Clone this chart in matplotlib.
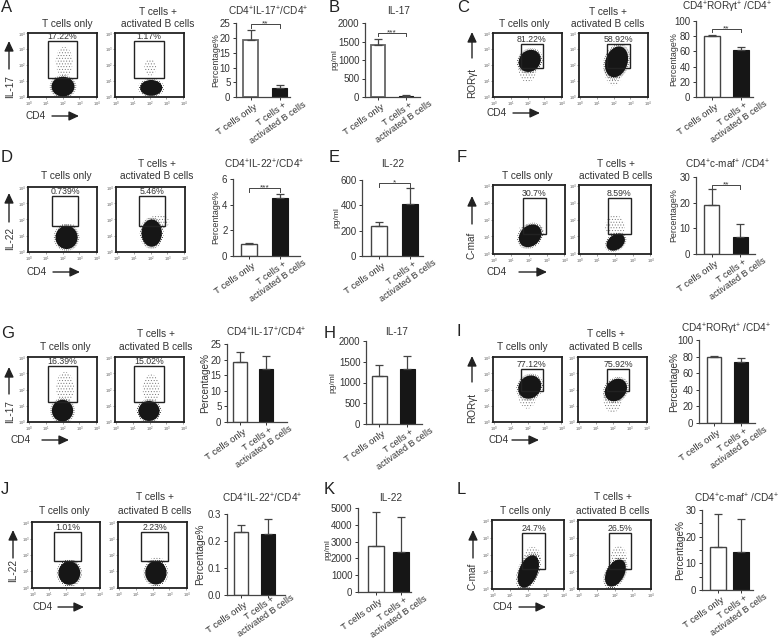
import matplotlib
matplotlib.use("Agg")
import matplotlib.pyplot as plt
from matplotlib.patches import Ellipse, Rectangle

plt.rcParams["font.family"] = ["Liberation Sans", "DejaVu Sans"]
plt.rcParams["mathtext.default"] = "regular"
plt.rcParams["hatch.linewidth"] = 0.4

W, H = 779, 639
INK = "#333333"
DARK = "#161616"

# ---- bar data
bar_names = list("ABCDEFGHIJKL")
bar_titles = [
    "CD4$^{+}$IL-17$^{+}$/CD4$^{+}$", "IL-17", "CD4$^{+}$RORγt$^{+}$ /CD4$^{+}$",
    "CD4$^{+}$IL-22$^{+}$/CD4$^{+}$", "IL-22", "CD4$^{+}$c-maf$^{+}$ /CD4$^{+}$",
    "CD4$^{+}$IL-17$^{+}$/CD4$^{+}$", "IL-17", "CD4$^{+}$RORγt$^{+}$ /CD4$^{+}$",
    "CD4$^{+}$IL-22$^{+}$/CD4$^{+}$", "IL-22", "CD4$^{+}$c-maf$^{+}$ /CD4$^{+}$",
]
bar_ylabels = ["Percentage%", "pg/ml", "Percentage%"] * 2 + ["Percentage%", "pg/ml", "Percentage%"] * 2
bar_means = [[19.3, 3.0], [1400, 30], [80, 62], [0.95, 4.55], [235, 410], [19, 6.5],
             [19.2, 17], [1150, 1325], [80, 73], [0.235, 0.227], [2715, 2370], [16.2, 14.2]]
bar_tops = [[22.5, 4.0], [1570, 45], [81.5, 66], [1.05, 4.85], [265, 537], [25.3, 11.7],
            [22.5, 21], [1420, 1640], [81, 78], [0.26, 0.281], [4760, 4460], [28.4, 26.8]]
bar_ticks = [[0, 5, 10, 15, 20, 25], [0, 500, 1000, 1500, 2000], [0, 20, 40, 60, 80, 100],
             [0, 2, 4, 6], [0, 200, 400, 600], [0, 10, 20, 30],
             [0, 5, 10, 15, 20, 25], [0, 500, 1000, 1500, 2000], [0, 20, 40, 60, 80, 100],
             [0.0, 0.1, 0.2, 0.3], [0, 1000, 2000, 3000, 4000, 5000], [0, 10, 20, 30]]
# significance: stars, bracket height, tick end
bar_sig = {0: ("**", 24.7, 23.3), 1: ("***", 1730, 1650), 2: ("**", 89.5, 85.5),
           3: ("***", 5.3, 5.0), 4: ("*", 576, 545), 5: ("**", 26.9, 25.3)}
cat_a = "T cells only"
cat_b = "T cells +\nactivated B cells"

# ---- flow data, in decades (10^0..10^4); two plots per row of panels
flow_pct = ["17.22%", "1.17%", "81.22%", "58.92%", "0.739%", "5.46%", "30.7%", "8.59%",
            "16.39%", "15.02%", "77.12%", "75.92%", "1.01%", "2.23%", "24.7%", "26.5%"]
flow_gate = [
    (1.16, 2.84, 1.19, 3.50), (1.10, 2.84, 1.19, 3.50), (1.62, 2.90, 1.81, 3.31), (1.62, 2.96, 1.81, 3.31),
    (1.39, 2.90, 1.60, 3.45), (1.33, 2.84, 1.60, 3.45), (1.67, 2.94, 1.16, 3.25), (1.61, 2.89, 1.16, 3.25),
    (1.16, 2.84, 1.23, 3.45), (1.10, 2.84, 1.23, 3.45), (1.62, 2.90, 1.91, 3.26), (1.68, 2.96, 1.91, 3.26),
    (1.29, 2.88, 1.64, 3.39), (1.35, 2.94, 1.64, 3.39), (1.67, 2.94, 1.16, 3.25), (1.67, 2.94, 1.16, 3.25),
]
# dense cloud: centre x, centre y, width, height, tilt
flow_blob = [
    (2.03, 0.63, 1.35, 1.25, 0), (2.10, 0.55, 1.30, 1.00, 0), (2.13, 2.26, 1.25, 1.45, -30), (2.18, 2.20, 1.30, 2.00, -15),
    (2.24, 0.88, 1.30, 1.45, 0), (2.07, 1.15, 1.20, 1.70, 0), (2.07, 1.04, 1.15, 1.45, -40), (2.04, 0.66, 0.85, 1.15, -50),
    (2.00, 0.68, 1.25, 1.35, 0), (1.97, 0.66, 1.25, 1.25, 0), (2.13, 2.15, 1.30, 1.50, -30), (2.20, 1.97, 1.20, 1.50, -35),
    (2.20, 0.89, 1.30, 1.45, 0), (2.20, 0.91, 1.25, 1.45, 0), (2.02, 1.00, 1.05, 2.00, -20), (2.05, 0.91, 1.00, 1.70, -25),
]
# sparse cloud above the gate edge: centre x, centre y, width, height
flow_sparse = [
    (2.10, 2.20, 1.00, 1.90), (2.05, 1.85, 0.70, 1.05), (2.00, 1.90, 1.10, 2.00), (2.00, 1.80, 1.10, 2.20),
    (2.30, 1.55, 0.90, 0.45), (2.50, 1.85, 1.20, 0.90), (2.15, 1.45, 1.40, 0.60), (2.00, 1.60, 1.10, 1.30),
    (2.15, 2.10, 1.05, 2.00), (2.10, 2.00, 1.00, 1.90), (2.00, 1.80, 1.10, 2.00), (2.00, 1.50, 1.10, 1.90),
    (2.30, 1.50, 0.70, 0.40), (2.25, 1.60, 0.90, 0.50), (2.25, 1.80, 1.00, 1.30), (2.25, 1.80, 0.90, 1.40),
]
y_markers = ["IL-17", "RORγt", "IL-22", "C-maf", "IL-17", "RORγt", "IL-22", "C-maf"]

# ---- layout, pixels
flow_boxes = [
    (28, 33, 97, 97), (115, 33, 184, 97), (493, 33, 562, 97), (579, 33, 648, 97),
    (28, 187, 97, 252), (116, 187, 185, 252), (493, 185, 565, 254), (579, 185, 651, 254),
    (28, 357, 97, 422), (115, 357, 184, 422), (493, 357, 562, 422), (578, 357, 647, 422),
    (32, 522, 100, 588), (118, 522, 187, 588), (492, 520, 564, 589), (578, 520, 651, 589),
]
flow_title_x = [(67, 158), (524, 608), (66, 157), (527, 616), (65, 156), (522, 606), (64, 155), (525, 613)]
flow_title_y = [(24, 12), (24, 12), (176, 164), (176, 164), (347, 334), (347, 334), (511, 497), (511, 497)]
# y label x, y label y, arrow x, arrow y from, arrow y to
y_arrow = [(10, 87, 9, 69, 41), (472, 83, 472, 58, 32), (10, 239, 9, 222, 193), (472, 245, 472, 224, 196),
           (10, 412, 9, 394, 367), (472, 408, 472, 382, 356), (13, 571, 13, 558, 530), (473, 576, 473, 558, 530)]
# CD4 left, y, arrow x from, arrow x to
x_arrow = [(26, 116, 52, 79), (487, 113, 513, 540), (27, 272, 53, 80), (487, 272, 519, 547),
           (11, 440, 42, 69), (489, 440, 512, 539), (33, 607, 58, 84), (493, 607, 519, 546)]
# left, top, bottom, right, first bar centre, spacing, bar width
bar_boxes = [
    (236, 23, 97.3, 290, 250.5, 29, 15), (365, 23, 97, 420, 378, 28, 14.5), (696, 21, 97, 753, 712, 29, 16),
    (233, 179, 256, 300, 249, 31, 16), (362, 180, 256, 423, 379, 31, 16), (696, 177, 254, 755, 711.5, 28.5, 15),
    (227, 344, 422, 287, 240, 26, 13.5), (366, 341, 424, 422, 379, 28, 15), (699, 340, 423, 755, 714, 27, 14),
    (227, 514, 595, 285, 241, 27, 14), (358, 508, 592, 411, 376, 25, 16), (702, 510, 590, 753, 718, 23, 15.5),
]
bar_title_xy = [(268, 11), (399, 11), (727, 7), (264, 164), (393, 164), (728, 164),
                (266, 332), (397, 332), (726, 329), (262, 498), (391, 498), (737, 498)]
bar_ylabel_gap = [20, 30, 22, 17, 25, 22, 22, 33, 25, 27, 30, 22]
bar_ylabel_size = [6.4, 6, 6.4, 6.4, 6, 6.4, 7.2, 6, 7.2, 7.4, 6, 7.2]
letter_xy = [(1, 7), (329, 7), (457, 7), (1, 157), (329, 157), (457, 157),
             (1, 333), (324, 333), (457, 332), (1, 489), (324, 489), (457, 489)]


def px_axes(fig, x0, y0, x1, y1):
    return fig.add_axes([x0 / W, 1 - y1 / H, (x1 - x0) / W, (y1 - y0) / H])


def flow_plot(fig, over, i):
    x0, y0, x1, y1 = flow_boxes[i]
    ax = px_axes(fig, x0, y0, x1, y1)
    ax.set_xlim(-0.03, 4.03)
    ax.set_ylim(-0.03, 4.03)
    cx, cy, w, h, tilt = flow_blob[i]
    sx, sy, sw, sh = flow_sparse[i]
    ax.add_patch(Ellipse((sx, sy), sw, sh, fill=False, hatch="......", ec="#777777", lw=0))
    ax.add_patch(Ellipse((cx, cy), w * 1.16, h * 1.16, angle=tilt, fill=False, hatch="........", ec=DARK, lw=0))
    ax.add_patch(Ellipse((cx, cy), w, h, angle=tilt, fc=DARK, ec="none"))
    gx0, gx1, gy0, gy1 = flow_gate[i]
    ax.add_patch(Rectangle((gx0, gy0), gx1 - gx0, gy1 - gy0, fill=False, ec="#222222", lw=1.0))
    ax.text((gx0 + gx1) / 2, gy1 + 0.02, flow_pct[i], ha="center", va="bottom",
            fontsize=6.3, color=INK, clip_on=False)
    labels = ["$10^{%d}$" % d for d in range(5)]
    ax.set_xticks(range(5), labels)
    ax.set_yticks(range(5), labels)
    ax.tick_params(length=1.2, width=0.4, pad=0.5, labelsize=2.8, colors="#555555")
    for s in ax.spines.values():
        s.set_linewidth(1.3)
        s.set_color("#222222")


def arrow(over, a, b):
    over.annotate("", xy=b, xytext=a,
                  arrowprops=dict(arrowstyle="-|>,head_width=0.28,head_length=0.6", color="#222222",
                                  lw=1.0, shrinkA=0, shrinkB=0))


def bar_plot(fig, over, i):
    left, top, bottom, right, c0, sp, bw = bar_boxes[i]
    ax = px_axes(fig, left, top, right, bottom)
    ticks = bar_ticks[i]
    ax.set_ylim(ticks[0], ticks[-1])
    ax.set_xlim((left - c0) / sp, (right - c0) / sp)
    means, tops = bar_means[i], bar_tops[i]
    wide = i in (0, 1)
    ax.bar(0, means[0], width=bw / sp, fc="white", ec="#666666" if wide else "#444444", lw=1.3 if wide else 1.0)
    ax.bar(1, means[1], width=bw / sp, fc=DARK, ec=DARK, lw=0.8)
    for k in range(2):
        ax.errorbar(k, means[k], yerr=[[0], [tops[k] - means[k]]], color="#444444",
                    lw=0.9, capsize=3.2, capthick=0.9, clip_on=False, zorder=1)
    ax.set_xticks([0, 1], [])
    ax.set_yticks(ticks, [("%.1f" % t) if i == 9 else str(t) for t in ticks])
    if i == 11:
        ax.set_yticks([5, 15, 25], minor=True)
    ax.tick_params(which="both", length=2.5, width=0.7, pad=1.5, labelsize=7, colors=INK)
    ax.patch.set_alpha(0)
    for s in ("top", "right"):
        ax.spines[s].set_visible(False)
    for s in ("left", "bottom"):
        ax.spines[s].set_linewidth(0.9)
        ax.spines[s].set_color("#444444")
    if i in bar_sig:
        stars, yb, yt = bar_sig[i]
        ax.plot([0, 0, 1, 1], [yt, yb, yb, yt], color="#444444", lw=0.7, clip_on=False)
        ax.text(0.5, yb, stars, ha="center", va="center", fontsize=6, color=INK, clip_on=False)
    tx, ty = bar_title_xy[i]
    over.text(tx, ty, bar_titles[i], ha="center", va="center", fontsize=7.2, color=INK)
    over.text(left - bar_ylabel_gap[i], (top + bottom) / 2, bar_ylabels[i], rotation=90,
              ha="center", va="center", fontsize=bar_ylabel_size[i], color=INK)
    over.text(c0 + 3, bottom + 5, cat_a, rotation=35, rotation_mode="anchor",
              ha="right", va="top", fontsize=6.8, color=INK)
    # J sits close to the bottom edge, so its label goes a little higher
    over.text(c0 + sp - 5, bottom + (17 if i == 9 else 21), cat_b, rotation=35, rotation_mode="anchor",
              ha="center", va="center", ma="center", fontsize=6.6, linespacing=1.2, color=INK)


fig = plt.figure(figsize=(W / 100, H / 100), dpi=100)
over = fig.add_axes([0, 0, 1, 1], zorder=5)
over.set_xlim(0, W)
over.set_ylim(H, 0)
over.axis("off")

for i in range(16):
    flow_plot(fig, over, i)

for j in range(8):
    xa, xb = flow_title_x[j]
    y1, y2 = flow_title_y[j]
    over.text(xa, y1, "T cells only", ha="center", va="center", fontsize=7.3, color=INK)
    over.text(xb, y1, "activated B cells", ha="center", va="center", fontsize=7.3, color=INK)
    over.text(xb, y2, "T cells +", ha="center", va="center", fontsize=7.3, color=INK)
    lx, ly, ax_x, a0, a1 = y_arrow[j]
    over.text(lx, ly, y_markers[j], rotation=90, ha="center", va="center", fontsize=7.2, color=INK)
    arrow(over, (ax_x, a0), (ax_x, a1))
    cl, cy, b0, b1 = x_arrow[j]
    over.text(cl, cy, "CD4", ha="left", va="center", fontsize=7.2, color=INK)
    arrow(over, (b0, cy), (b1, cy))

for i in range(12):
    bar_plot(fig, over, i)
    over.text(letter_xy[i][0], letter_xy[i][1], bar_names[i], ha="left", va="center", fontsize=12, color="#222222")

fig.savefig("out.png", dpi=100)
